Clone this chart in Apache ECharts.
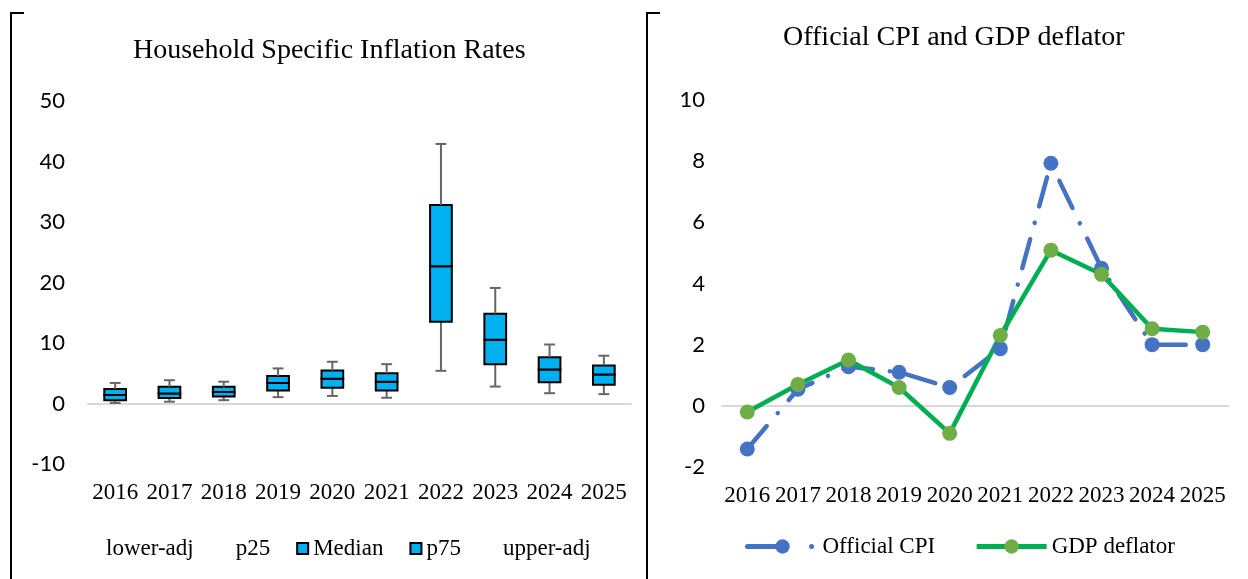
<!DOCTYPE html>
<html>
<head>
<meta charset="utf-8">
<script src="https://cdn.jsdelivr.net/npm/echarts@6/dist/echarts.min.js"></script>
<style>
  html, body { margin: 0; padding: 0; background: #fff; }
  #main { width: 1248px; height: 579px; }
</style>
</head>
<body>
<div id="main"></div>
<script>
// categories
const years = ['2016', '2017', '2018', '2019', '2020', '2021', '2022', '2023', '2024', '2025']

// household specific inflation (box plot pieces)
const lowerAdj = [0.1, 0.3, 0.55, 1.05, 1.25, 0.95, 5.4, 2.8, 1.7, 1.55]
const p25 = [0.55, 0.9, 1.15, 2.15, 2.6, 2.15, 13.5, 6.5, 3.5, 3.1]
const median = [1.4, 1.65, 1.9, 3.4, 4.1, 3.6, 22.7, 10.55, 5.6, 4.8]
const p75 = [2.4, 2.75, 2.75, 4.55, 5.45, 5.0, 32.8, 14.85, 7.65, 6.3]
const upperAdj = [3.4, 3.85, 3.6, 5.8, 6.9, 6.5, 42.9, 19.1, 9.75, 7.9]

// official CPI and GDP deflator
const cpi = [-1.41, 0.54, 1.28, 1.1, 0.6, 1.87, 7.93, 4.5, 2.0, 2.0]
const gdpDeflator = [-0.2, 0.7, 1.5, 0.6, -0.9, 2.3, 5.09, 4.3, 2.52, 2.41]

const serif = 'Liberation Serif'
const sans = 'Lato'

function pairs(lo, hi) {
    return years.map(function (y, i) {
        return [i, lo[i], hi[i]]
    })
}

function whiskerItem(params, api) {
    const x = api.value(0)
    const a = api.coord([x, api.value(1)])
    const b = api.coord([x, api.value(2)])
    const half = api.size([1, 0])[0] * 0.1
    const capY = params.seriesName === 'lower-adj' ? a[1] : b[1]
    const st = { stroke: '#666', lineWidth: 2 }
    return {
        type: 'group',
        children: [
            { type: 'line', shape: { x1: a[0], y1: a[1], x2: b[0], y2: b[1] }, style: st },
            { type: 'line', shape: { x1: a[0] - half, y1: capY, x2: a[0] + half, y2: capY }, style: st }
        ]
    }
}

function boxItem(params, api) {
    const x = api.value(0)
    const top = api.coord([x, api.value(2)])
    const bottom = api.coord([x, api.value(1)])
    const w = api.size([1, 0])[0] * 0.4
    return {
        type: 'rect',
        shape: { x: top[0] - w / 2, y: top[1], width: w, height: bottom[1] - top[1] },
        style: { fill: '#00B0F0', stroke: '#000', lineWidth: 2 }
    }
}

const chart = echarts.init(document.getElementById('main'))

const boxStyle = { color: '#00B0F0', borderColor: '#000', borderWidth: 1.5 }

// label axis at the bottom + a second axis that only draws the zero line
function catAxes(grid) {
    return [{
        gridIndex: grid,
        type: 'category',
        position: 'bottom',
        data: years,
        axisLine: { show: false, onZero: false },
        axisTick: { show: false },
        axisLabel: { interval: 0, fontFamily: serif, fontSize: 23, color: '#000', margin: 17 }
    }, {
        gridIndex: grid,
        type: 'category',
        position: 'bottom',
        data: years,
        axisLine: { show: true, onZero: true, lineStyle: { color: '#d9d9d9', width: 2 } },
        axisTick: { show: false },
        axisLabel: { show: false }
    }]
}

const option = {
    animation: false,
    backgroundColor: '#fff',
    title: [{
        text: 'Household Specific Inflation Rates',
        left: 133,
        top: 37,
        padding: 0,
        textStyle: { fontFamily: serif, fontSize: 28, fontWeight: 'normal', color: '#000' }
    }, {
        text: 'Official CPI and GDP deflator',
        left: 783,
        top: 24,
        padding: 0,
        textStyle: { fontFamily: serif, fontSize: 28, fontWeight: 'normal', color: '#000' }
    }],
    legend: [{
        left: 90,
        top: 537,
        padding: 0,
        itemWidth: 11,
        itemHeight: 11,
        itemGap: 26,
        textStyle: { fontFamily: serif, fontSize: 23, color: '#000' },
        data: [
            { name: 'lower-adj', icon: 'none' },
            { name: 'p25', icon: 'none' },
            { name: 'Median', icon: 'rect' },
            { name: 'p75', icon: 'rect' },
            { name: 'upper-adj', icon: 'none' }
        ]
    }, {
        left: 745,
        top: 535,
        padding: 0,
        itemWidth: 70,
        itemHeight: 18,
        itemGap: 39,
        textStyle: { fontFamily: serif, fontSize: 23, color: '#000' },
        data: [
            { name: 'Official CPI', lineStyle: { width: 5, type: [34, 30, 0.1, 30] } },
            { name: 'GDP deflator', lineStyle: { width: 5 } }
        ]
    }],
    grid: [
        { left: 88, top: 101, width: 543, height: 363 },
        { left: 722, top: 100, width: 506, height: 367 }
    ],
    xAxis: catAxes(0).concat(catAxes(1)),
    yAxis: [{
        gridIndex: 0,
        type: 'value',
        min: -10,
        max: 50,
        interval: 10,
        splitLine: { show: false },
        axisLine: { show: false },
        axisTick: { show: false },
        axisLabel: { fontFamily: sans, fontSize: 22, color: '#000', margin: 23 }
    }, {
        gridIndex: 1,
        type: 'value',
        min: -2,
        max: 10,
        interval: 2,
        splitLine: { show: false },
        axisLine: { show: false },
        axisTick: { show: false },
        axisLabel: { fontFamily: sans, fontSize: 22, color: '#000', margin: 17 }
    }],
    series: [{
        name: 'lower-adj',
        type: 'custom',
        xAxisIndex: 0,
        yAxisIndex: 0,
        renderItem: whiskerItem,
        itemStyle: { color: '#666' },
        encode: { x: 0, y: [1, 2] },
        data: pairs(lowerAdj, p25)
    }, {
        name: 'p25',
        type: 'custom',
        xAxisIndex: 0,
        yAxisIndex: 0,
        renderItem: boxItem,
        itemStyle: { color: '#fff' },
        encode: { x: 0, y: [1, 2] },
        data: []
    }, {
        name: 'Median',
        type: 'custom',
        xAxisIndex: 0,
        yAxisIndex: 0,
        renderItem: boxItem,
        itemStyle: boxStyle,
        encode: { x: 0, y: [1, 2] },
        data: pairs(p25, median)
    }, {
        name: 'p75',
        type: 'custom',
        xAxisIndex: 0,
        yAxisIndex: 0,
        renderItem: boxItem,
        itemStyle: boxStyle,
        encode: { x: 0, y: [1, 2] },
        data: pairs(median, p75)
    }, {
        name: 'upper-adj',
        type: 'custom',
        xAxisIndex: 0,
        yAxisIndex: 0,
        renderItem: whiskerItem,
        itemStyle: { color: '#666' },
        encode: { x: 0, y: [1, 2] },
        data: pairs(p75, upperAdj)
    }, {
        name: 'Official CPI',
        type: 'line',
        xAxisIndex: 2,
        yAxisIndex: 1,
        data: cpi,
        symbol: 'circle',
        symbolSize: 15,
        itemStyle: { color: '#4472C4' },
        lineStyle: { color: '#4472C4', width: 4.5, type: [30, 17, 0.1, 17], cap: 'round' }
    }, {
        name: 'GDP deflator',
        type: 'line',
        xAxisIndex: 2,
        yAxisIndex: 1,
        data: gdpDeflator,
        symbol: 'circle',
        symbolSize: 15,
        itemStyle: { color: '#70AD47' },
        lineStyle: { color: '#00B050', width: 4.5 }
    }],
    graphic: [
        { type: 'line', shape: { x1: 11, y1: 12, x2: 11, y2: 579 }, style: { stroke: '#000', lineWidth: 2 } },
        { type: 'line', shape: { x1: 10, y1: 13, x2: 24, y2: 13 }, style: { stroke: '#000', lineWidth: 2 } },
        { type: 'line', shape: { x1: 647, y1: 12, x2: 647, y2: 579 }, style: { stroke: '#000', lineWidth: 2 } },
        { type: 'line', shape: { x1: 646, y1: 13, x2: 660, y2: 13 }, style: { stroke: '#000', lineWidth: 2 } }
    ]
}

chart.setOption(option)
</script>
</body>
</html>
